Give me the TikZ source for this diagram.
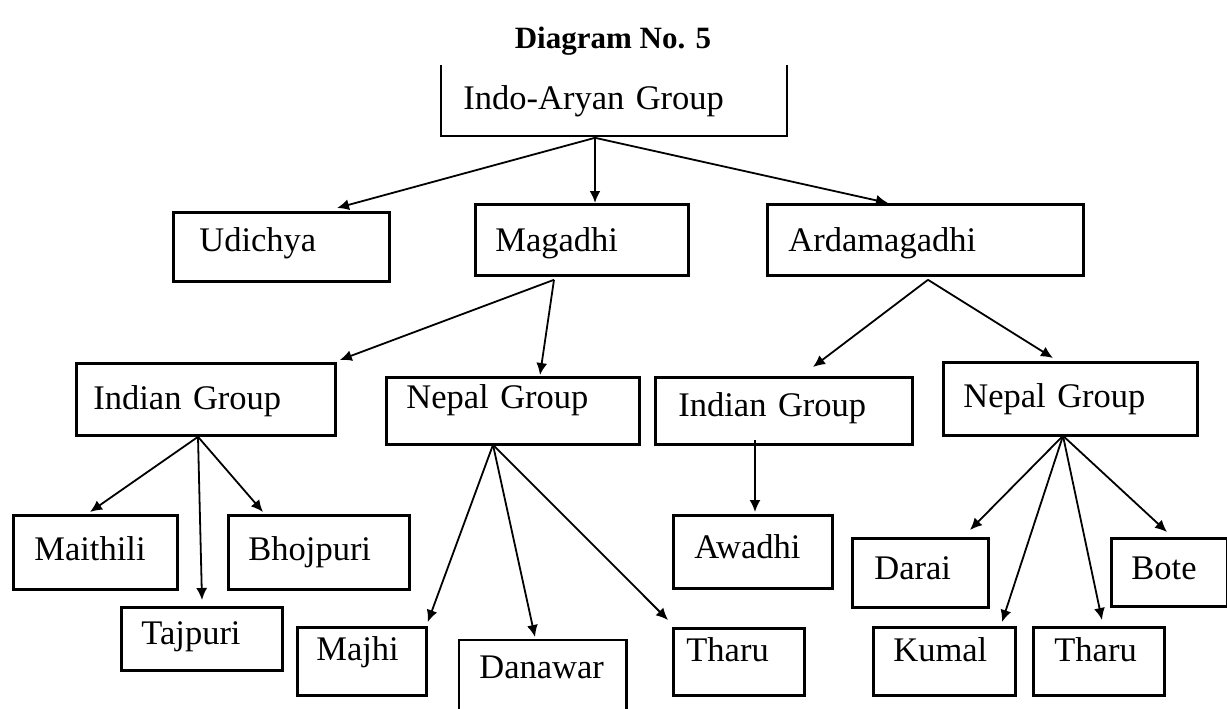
\documentclass[tikz,border=0pt]{standalone}
\usepackage{fontspec}
\setmainfont{Liberation Serif}
\usetikzlibrary{arrows.meta,calc}

\begin{document}
\begin{tikzpicture}[
  x=0.5pt, y=-0.5pt,
  box/.style={draw,line width=1.4pt,anchor=north west,inner ysep=0pt,align=left,font=\fontsize{17.25}{20}\selectfont},
  openbox/.style={box,draw=none},
  arrow/.style={-{Latex[length=6pt,width=5.5pt]},line width=0.9pt},
  title/.style={anchor=base,font=\fontsize{15.5}{18}\selectfont\bfseries}
]
\useasboundingbox (0,0) rectangle (1227,708);
\node[title] (ttl) at (613,48) {Diagram No. 5};
% first level
\node[openbox,inner xsep=10.5pt,text width=150.5pt,text height=21.5pt,text depth=12.5pt] (root) at (441,65) {Indo-Aryan Group};
\draw[line width=0.9pt] (root.north west) -- (root.south west) -- (root.south east) -- (root.north east);
\node[box,inner xsep=13pt,text width=82pt,text height=19.5pt,text depth=15pt] (udi) at (172,211) {Udichya};
\node[box,inner xsep=10pt,text width=86.5pt,text height=23.5pt,text depth=12pt] (mag) at (474,203) {Magadhi};
\node[box,inner xsep=10.5pt,text width=137pt,text height=23.5pt,text depth=12pt] (ard) at (766,203) {Ardamagadhi};
% groups
\node[box,inner xsep=8.5pt,text width=112.5pt,text height=23pt,text depth=13pt] (indl) at (75,362) {Indian Group};
\node[box,inner xsep=10pt,text width=106.5pt,text height=15.5pt,text depth=18pt] (nepm) at (385,376) {Nepal Group};
\node[box,inner xsep=11.5pt,text width=105.5pt,text height=19.5pt,text depth=14pt] (indr) at (654,376) {Indian Group};
\node[box,inner xsep=10pt,text width=107pt,text height=22.5pt,text depth=14pt] (nepr) at (942,361) {Nepal Group};
% languages
\node[box,inner xsep=10.5pt,text width=61pt,text height=22.5pt,text depth=14.5pt] (mai) at (12,514) {Maithili};
\node[box,inner xsep=10pt,text width=70.5pt,text height=22.5pt,text depth=14.5pt] (bho) at (227,514) {Bhojpuri};
\node[box,inner xsep=10pt,text width=60.5pt,text height=18.5pt,text depth=13pt] (taj) at (120,606) {Tajpuri};
\node[box,inner xsep=9.5pt,text width=45.5pt,text height=16.5pt,text depth=17.5pt] (maj) at (296,626) {Majhi};
\node[openbox,inner xsep=9.5pt,text width=63.5pt,text height=18.5pt,text depth=15.5pt] (dan) at (459,640) {Danawar};
\draw[line width=1.4pt] (dan.south west) -- (dan.north west) -- (dan.north east) -- (dan.south east);
\node[box,inner xsep=6.5pt,text width=52.5pt,text height=16.5pt,text depth=17pt] (tham) at (672,627) {Tharu};
\node[box,inner xsep=10.5pt,text width=58.5pt,text height=21.5pt,text depth=15pt] (awa) at (672,514) {Awadhi};
\node[box,inner xsep=11pt,text width=46pt,text height=20.5pt,text depth=14pt] (dar) at (851,537) {Darai};
\node[box,inner xsep=10pt,text width=38pt,text height=20.5pt,text depth=13.5pt] (bot) at (1110,537) {Bote};
\node[box,inner xsep=10pt,text width=51pt,text height=17pt,text depth=17pt] (kum) at (872,626) {Kumal};
\node[box,inner xsep=10.5pt,text width=44.5pt,text height=17pt,text depth=17pt] (thar) at (1032,626) {Tharu};
% arrows
\draw[arrow] ($(root.south west)+(154,2)$) -- ($(udi.north west)+(165,-3)$);
\draw[arrow,line width=1.2pt] ($(root.south west)+(154,2)$) -- ($(mag.north west)+(121,0)$);
\draw[arrow] ($(root.south west)+(154,2)$) -- ($(ard.north west)+(122,0)$);
\draw[arrow] ($(mag.south west)+(80,3)$) -- ($(indl.north east)+(3,-2)$);
\draw[arrow] ($(mag.south west)+(80,3)$) -- ($(nepm.north west)+(155,-1)$);
\draw[arrow] ($(ard.south west)+(162,3)$) -- ($(indr.north west)+(159,-9)$);
\draw[arrow] ($(ard.south west)+(162,3)$) -- ($(nepr.north west)+(111,-3)$);
\draw[arrow] ($(indl.south west)+(123,0)$) -- ($(mai.north west)+(78,-2)$);
\draw[arrow] ($(indl.south west)+(123,0)$) -- ($(taj.north west)+(82,-6)$);
\draw[arrow] ($(indl.south west)+(123,0)$) -- ($(bho.north west)+(36,-2)$);
\draw[arrow] ($(nepm.south west)+(108,-1)$) -- ($(maj.north east)+(0,-4)$);
\draw[arrow] ($(nepm.south west)+(108,-1)$) -- ($(dan.north west)+(76,-3)$);
\draw[arrow] ($(nepm.south west)+(108,-1)$) -- ($(tham.north west)+(-4,-7)$);
\draw[arrow] ($(indr.south west)+(101,-6)$) -- ($(awa.north west)+(83,-2)$);
\draw[arrow] ($(nepr.south west)+(121,-1)$) -- ($(dar.north west)+(119,-7)$);
\draw[arrow] ($(nepr.south west)+(121,-1)$) -- ($(kum.north west)+(130,-4)$);
\draw[arrow] ($(nepr.south west)+(121,-1)$) -- ($(thar.north west)+(70,-6)$);
\draw[arrow] ($(nepr.south west)+(121,-1)$) -- ($(bot.north west)+(57,-5)$);
\end{tikzpicture}
\end{document}
